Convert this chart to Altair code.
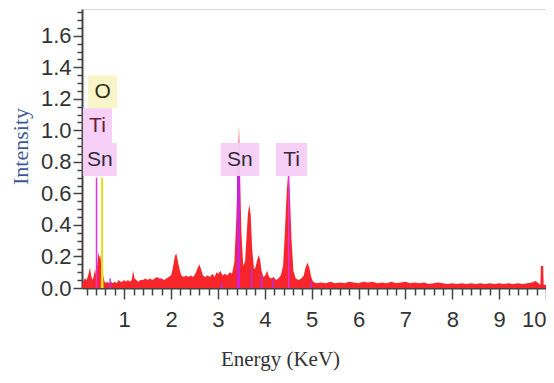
import altair as alt
import pandas as pd

# ---- spectrum ----
energy = [0.10, 0.12, 0.16, 0.20, 0.24, 0.27, 0.30, 0.33, 0.36, 0.38, 0.40, 0.43, 0.45, 0.47, 0.49,
          0.51, 0.54, 0.57, 0.60, 0.64, 0.68, 0.72, 0.76, 0.80, 0.84, 0.88, 0.92, 0.96, 1.00, 1.04,
          1.08, 1.12, 1.16, 1.19, 1.22, 1.26, 1.30, 1.35, 1.40, 1.45, 1.50, 1.55, 1.60, 1.65, 1.70,
          1.75, 1.80, 1.85, 1.90, 1.95, 2.00, 2.04, 2.08, 2.11, 2.14, 2.18, 2.22, 2.27, 2.32, 2.37,
          2.42, 2.47, 2.52, 2.56, 2.60, 2.64, 2.68, 2.73, 2.78, 2.83, 2.88, 2.93, 2.97, 3.01, 3.05,
          3.10, 3.15, 3.20, 3.25, 3.30, 3.35, 3.39, 3.42, 3.45, 3.47, 3.50, 3.54, 3.58, 3.61, 3.64,
          3.67, 3.70, 3.73, 3.77, 3.80, 3.84, 3.87, 3.90, 3.93, 3.97, 4.01, 4.05, 4.09, 4.14, 4.19,
          4.24, 4.29, 4.34, 4.39, 4.43, 4.47, 4.50, 4.53, 4.57, 4.61, 4.66, 4.72, 4.78, 4.83, 4.87,
          4.91, 4.95, 4.99, 5.03, 5.10, 5.20, 5.30, 5.40, 5.50, 5.60, 5.70, 5.80, 5.90, 6.00, 6.10,
          6.20, 6.30, 6.40, 6.50, 6.60, 6.70, 6.80, 6.90, 7.00, 7.10, 7.20, 7.30, 7.40, 7.50, 7.60,
          7.70, 7.80, 7.90, 8.00, 8.10, 8.20, 8.30, 8.40, 8.50, 8.60, 8.70, 8.80, 8.90, 9.00, 9.10,
          9.20, 9.30, 9.40, 9.50, 9.60, 9.70, 9.78, 9.84, 9.88, 9.89, 9.94, 9.95, 10.00]
counts = [0.00, 0.04, 0.06, 0.05, 0.09, 0.13, 0.07, 0.05, 0.09, 0.12, 0.08, 0.16, 0.23, 0.19, 0.21,
          0.15, 0.10, 0.05, 0.03, 0.04, 0.03, 0.04, 0.03, 0.04, 0.03, 0.05, 0.04, 0.04, 0.05, 0.04,
          0.05, 0.04, 0.05, 0.11, 0.06, 0.05, 0.04, 0.05, 0.05, 0.06, 0.05, 0.06, 0.05, 0.06, 0.07,
          0.06, 0.06, 0.05, 0.06, 0.07, 0.08, 0.13, 0.20, 0.22, 0.18, 0.12, 0.08, 0.07, 0.08, 0.07,
          0.08, 0.07, 0.09, 0.12, 0.15, 0.12, 0.08, 0.07, 0.08, 0.07, 0.09, 0.07, 0.10, 0.09, 0.11,
          0.08, 0.09, 0.08, 0.10, 0.09, 0.16, 0.42, 0.72, 1.03, 0.74, 0.36, 0.14, 0.17, 0.32, 0.47,
          0.53, 0.46, 0.25, 0.12, 0.13, 0.18, 0.21, 0.18, 0.11, 0.07, 0.08, 0.11, 0.07, 0.06, 0.07,
          0.05, 0.06, 0.08, 0.14, 0.36, 0.62, 0.73, 0.64, 0.31, 0.11, 0.06, 0.05, 0.06, 0.08, 0.13,
          0.16, 0.13, 0.07, 0.04, 0.03, 0.035, 0.03, 0.04, 0.03, 0.035, 0.03, 0.04, 0.035, 0.03, 0.04,
          0.035, 0.04, 0.03, 0.035, 0.03, 0.04, 0.03, 0.035, 0.04, 0.03, 0.035, 0.03, 0.035, 0.025, 0.03,
          0.035, 0.03, 0.025, 0.03, 0.025, 0.03, 0.025, 0.03, 0.025, 0.03, 0.025, 0.03, 0.025, 0.03, 0.025,
          0.03, 0.025, 0.03, 0.025, 0.03, 0.035, 0.045, 0.03, 0.02, 0.14, 0.14, 0.02, 0.02]

# O K-alpha overlay (yellow)
o_energy = [0.50, 0.52, 0.53, 0.54, 0.56]
o_counts = [0.00, 0.25, 0.34, 0.25, 0.00]

# element marker lines
line_energy = [0.41, 0.53, 3.44, 4.51]
line_top = [0.70, 0.70, 0.71, 0.71]
line_kind = ["Sn/Ti", "O", "Sn", "Ti"]
line_color = ["#e030e0", "#d8e020", "#cc22dd", "#dd33dd"]
line_width = [1.5, 2.0, 3.0, 1.5]

# small purple markers in the spectrum
minor_energy = [0.70, 3.08, 3.72, 3.93, 4.17, 4.99]
minor_top = [0.06, 0.03, 0.12, 0.08, 0.05, 0.04]

# label boxes
lab_text = ["O", "Ti", "Sn", "Sn", "Ti"]
lab_center = [0.54, 0.43, 0.48, 3.47, 4.57]
lab_half = [0.31, 0.31, 0.36, 0.41, 0.33]
lab_row = [2, 1, 0, 0, 0]
lab_fill = ["#f8f6c6", "#f6cdf6", "#f6cdf6", "#f6cdf6", "#f6cdf6"]
lab_color = ["#2e2e10", "#6a1c30", "#332a3a", "#332a3a", "#332a3a"]
row_edges = [0.71, 0.92, 1.14, 1.35]

spec = pd.DataFrame({"energy": energy, "counts": counts})
odf = pd.DataFrame({"energy": o_energy, "counts": o_counts})
ldf = pd.DataFrame({"energy": line_energy, "top": line_top, "kind": line_kind,
                    "color": line_color, "w": line_width, "base": 0.0})
mdf = pd.DataFrame({"energy": minor_energy, "top": minor_top, "base": 0.0})
bdf = pd.DataFrame({
    "text": lab_text,
    "lo": [c - h for c, h in zip(lab_center, lab_half)],
    "hi": [c + h for c, h in zip(lab_center, lab_half)],
    "center": lab_center,
    "bottom": [row_edges[r] for r in lab_row],
    "top": [row_edges[r + 1] for r in lab_row],
    "mid": [(row_edges[r] + row_edges[r + 1]) / 2 for r in lab_row],
    "fill": lab_fill,
    "tcolor": lab_color,
})

xs = alt.Scale(domain=[0.1, 10.0], nice=False, zero=False)
ys = alt.Scale(domain=[0, 1.77], nice=False, zero=False)

x_ticks = [round(0.2 * i, 1) for i in range(1, 51)]
y_ticks = [round(0.05 * i, 2) for i in range(0, 36)]

x_major = "abs(datum.value - round(datum.value)) < 0.01"
y_major = "abs(datum.value * 5 - round(datum.value * 5)) < 0.01"

xax = alt.Axis(
    values=x_ticks, grid=False, title="Energy (KeV)",
    labelExpr=f"({x_major}) ? format(datum.value, 'd') : ''",
    labelOverlap=False, labelFlush=False,
    labelFont="Liberation Sans", labelFontSize=22, labelColor="#333333",
    labelPadding=10,
    labelAlign={"condition": {"test": "datum.value > 9.9", "value": "right"}, "value": "center"},
    tickSize={"condition": {"test": x_major, "value": 11}, "value": 7},
    tickColor="#444444", tickWidth=1.5,
    domainColor="#444444", domainWidth=2,
    titleFont="Liberation Serif", titleFontSize=21, titleFontWeight="normal",
    titleColor="#333333", titleX=198, titleY=71, titleAlign="center", titleBaseline="middle",
)
yax = alt.Axis(
    values=y_ticks, grid=False, title="Intensity",
    labelExpr=f"({y_major}) ? format(datum.value, '.1f') : ''",
    labelOverlap=False, labelFlush=False,
    labelFont="Liberation Sans", labelFontSize=22, labelColor="#333333",
    labelPadding=2,
    tickSize={"condition": {"test": y_major, "value": 9}, "value": 5},
    tickColor="#444444", tickWidth=1.5,
    domainColor="#444444", domainWidth=2,
    titleFont="Liberation Serif", titleFontSize=22, titleFontWeight="normal",
    titleColor="#3d5a98", titleX=-62, titleY=137, titleAngle=-90,
    titleAlign="center", titleBaseline="middle",
)

area = alt.Chart(spec).mark_area(color="#f8262b", opacity=1, interpolate="linear").encode(
    x=alt.X("energy:Q", scale=xs, axis=xax),
    y=alt.Y("counts:Q", scale=ys, axis=yax),
)

o_area = alt.Chart(odf).mark_area(color="#d8e020", opacity=1).encode(
    x=alt.X("energy:Q", scale=xs, axis=xax),
    y=alt.Y("counts:Q", scale=ys, axis=yax),
)

lines = alt.Chart(ldf).mark_rule().encode(
    x=alt.X("energy:Q", scale=xs, axis=xax),
    y=alt.Y("base:Q", scale=ys, axis=yax),
    y2="top:Q",
    color=alt.Color("color:N", scale=None),
    strokeWidth=alt.StrokeWidth("w:Q", scale=None),
)

minors = alt.Chart(mdf).mark_rule(color="#b030e8", strokeWidth=1.5).encode(
    x=alt.X("energy:Q", scale=xs, axis=xax),
    y=alt.Y("base:Q", scale=ys, axis=yax),
    y2="top:Q",
)

boxes = alt.Chart(bdf).mark_rect(opacity=0.95).encode(
    x=alt.X("lo:Q", scale=xs, axis=xax),
    x2="hi:Q",
    y=alt.Y("bottom:Q", scale=ys, axis=yax),
    y2="top:Q",
    color=alt.Color("fill:N", scale=None),
)

texts = alt.Chart(bdf).mark_text(font="Liberation Sans", fontSize=21, baseline="middle", align="center").encode(
    x=alt.X("center:Q", scale=xs, axis=xax),
    y=alt.Y("mid:Q", scale=ys, axis=yax),
    text="text:N",
    color=alt.Color("tcolor:N", scale=None),
)

chart = alt.layer(area, o_area, minors, lines, boxes, texts).properties(
    width=464, height=279,
    autosize=alt.AutoSizeParams(type="none"),
    padding={"left": 74, "top": 1, "right": 0, "bottom": 85},
).configure_view(stroke="#999999", strokeWidth=1).configure(background="white")

chart.save("out.html", embed_options={"renderer": "svg", "actions": False})
